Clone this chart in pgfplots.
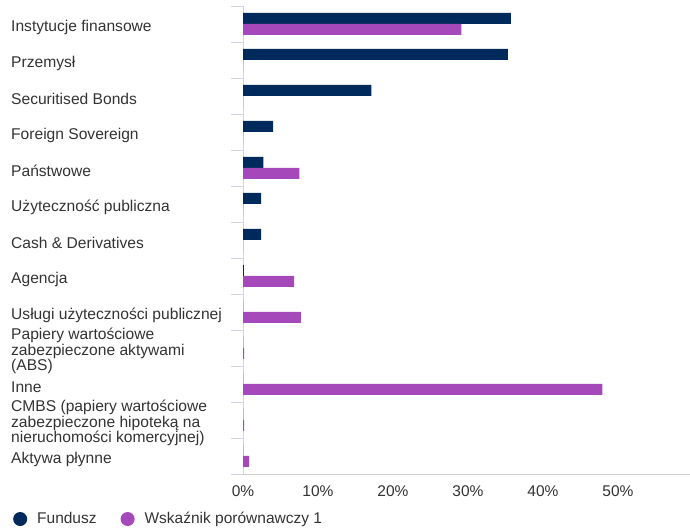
\documentclass[border=0pt]{standalone}
\usepackage{fontspec}
\setmainfont{Liberation Sans}
\usepackage{pgfplots}
\pgfplotsset{compat=1.18}
\definecolor{fundnavy}{RGB}{0,41,92}
\definecolor{benchpurple}{RGB}{165,72,185}
\definecolor{sepline}{RGB}{205,214,232}
\definecolor{baseline}{RGB}{204,204,204}
\definecolor{labeltext}{RGB}{51,51,51}

\begin{document}
\begin{tikzpicture}
\path[use as bounding box] (0bp,0bp) rectangle (690bp,530bp);
\begin{axis}[
  at={(243bp,56bp)}, anchor=south west,
  scale only axis, width=447bp, height=468bp,
  xbar, bar width=11bp,
  xmin=0, xmax=59.6, ymin=-0.5, ymax=12.5,
  axis x line*=bottom, axis y line*=left,
  x axis line style={draw=baseline, -},
  y axis line style={draw=sepline, -},
  tick align=outside,
  major tick length=0pt,
  minor tick length=12bp,
  minor tick style={draw=sepline, line width=0.8pt},
  xtick={0,10,20,30,40,50},
  xticklabel={\pgfmathprintnumber{\tick}\%},
  /pgf/number format/assume math mode=true,
  xticklabel style={font=\fontsize{15.5bp}{18bp}\selectfont, text=labeltext, yshift=-8bp},
  ytick={0,...,12},
  minor ytick={-0.5,0.5,...,12.5},
  yticklabels={
    {Aktywa płynne},
    {CMBS (papiery wartościowe\\zabezpieczone hipoteką na\\nieruchomości komercyjnej)},
    {Inne},
    {Papiery wartościowe\\zabezpieczone aktywami\\(ABS)},
    {Usługi użyteczności publicznej},
    {Agencja},
    {Cash \& Derivatives},
    {Użyteczność publiczna},
    {Państwowe},
    {Foreign Sovereign},
    {Securitised Bonds},
    {Przemysł},
    {Instytucje finansowe}},
  yticklabel style={anchor=west, align=left, inner sep=0pt, xshift=-232bp, yshift=-3bp,
    font=\fontsize{15.6bp}{13.5bp}\selectfont, text=labeltext},
  legend columns=2,
  legend style={at={(-0.5146,-0.0962)}, anchor=west, draw=none, fill=none,
    inner sep=0pt, nodes={inner sep=0pt}, font=\fontsize{15.5bp}{18bp}\selectfont, text=labeltext,
    /tikz/every odd column/.append style={column sep=10bp},
    /tikz/every even column/.append style={column sep=24bp}},
  legend image code/.code={\fill (7bp,0bp) circle (7bp);},
]
\addplot[draw=none, fill=fundnavy, bar shift=5.5bp] coordinates {
  (0,0) (0,1) (0,2) (0,3) (0,4) (0.1,5) (2.4,6) (2.4,7) (2.7,8)
  (4.0,9) (17.1,10) (35.3,11) (35.7,12)
};
\addlegendentry{Fundusz}
\addplot[draw=none, fill=benchpurple, bar shift=-5.5bp] coordinates {
  (0.8,0) (0.15,1) (47.9,2) (0.15,3) (7.7,4) (6.8,5) (0,6) (0,7) (7.5,8)
  (0,9) (0,10) (0,11) (29.1,12)
};
\addlegendentry{Wskaźnik porównawczy 1}
\end{axis}
\end{tikzpicture}
\end{document}
